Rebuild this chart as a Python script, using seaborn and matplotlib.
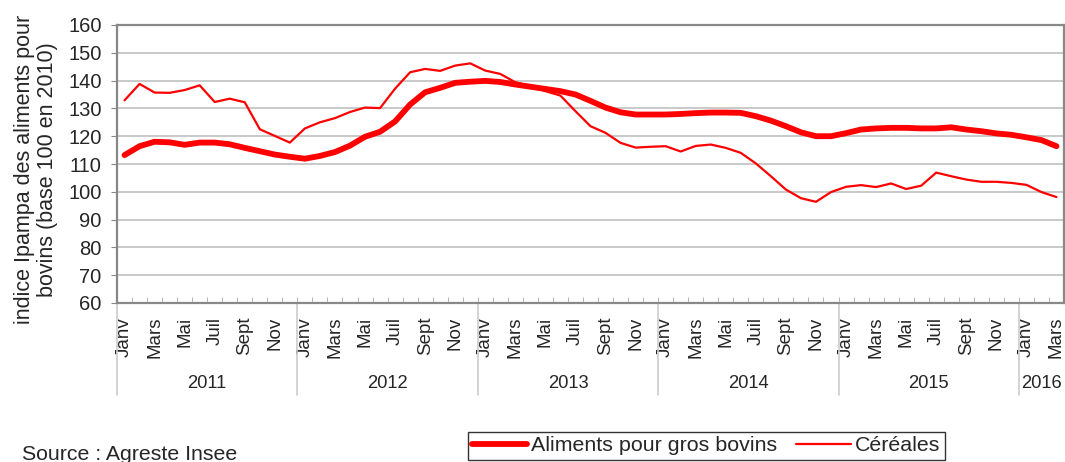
import numpy as np
import pandas as pd
import seaborn as sns
import matplotlib.pyplot as plt
from matplotlib.lines import Line2D

# Indice Ipampa, janvier 2011 -> mars 2016 (base 100 en 2010)
mois = ["Janv", "Févr", "Mars", "Avr", "Mai", "Juin",
        "Juil", "Août", "Sept", "Oct", "Nov", "Déc"]
annees = ["2011", "2012", "2013", "2014", "2015", "2016"]

aliments = [113.2, 116.4, 118.0, 117.8, 116.9, 117.7, 117.7, 117.1, 115.8, 114.6, 113.4, 112.6,
            111.9, 112.9, 114.3, 116.6, 119.8, 121.6, 125.3, 131.4, 135.8, 137.4, 139.2, 139.6,
            139.9, 139.5, 138.6, 137.8, 137.0, 136.2, 135.0, 132.7, 130.3, 128.6, 127.8, 127.8,
            127.8, 128.0, 128.3, 128.5, 128.5, 128.4, 127.2, 125.6, 123.6, 121.4, 120.0, 120.0,
            121.1, 122.4, 122.8, 123.0, 123.0, 122.8, 122.8, 123.2, 122.4, 121.8, 121.0, 120.5,
            119.6, 118.6, 116.4]
cereales = [132.9, 138.8, 135.7, 135.6, 136.6, 138.3, 132.3, 133.5, 132.2, 122.5, 120.1, 117.7,
            122.8, 125.0, 126.5, 128.7, 130.3, 130.1, 137.1, 143.0, 144.2, 143.5, 145.4, 146.2,
            143.6, 142.4, 139.4, 138.0, 136.2, 134.6, 129.0, 123.6, 121.2, 117.6, 115.9, 116.2,
            116.4, 114.5, 116.5, 117.0, 115.8, 114.0, 110.2, 105.6, 100.8, 97.7, 96.4, 99.9,
            101.8, 102.4, 101.7, 103.0, 101.0, 102.2, 106.9, 105.6, 104.4, 103.6, 103.6, 103.2,
            102.5, 99.9, 98.1]

n = len(aliments)
df = pd.DataFrame({"x": np.arange(n), "aliments": aliments, "cereales": cereales})

sns.set_style("white")
plt.rcParams["font.family"] = ["Liberation Sans", "DejaVu Sans"]

fig = plt.figure(figsize=(10.65, 4.62), dpi=100)
ax = fig.add_axes([117 / 1065, 1 - 303 / 462, 947 / 1065, 278 / 462])

sns.lineplot(data=df, x="x", y="aliments", color="#ff0000", linewidth=4.2, ax=ax)
sns.lineplot(data=df, x="x", y="cereales", color="#ff0000", linewidth=1.6, ax=ax)

ax.set_xlim(-0.5, n - 0.5)
ax.set_ylim(60, 160)
ax.set_yticks(range(60, 161, 10))
ax.yaxis.grid(True, color="#c0c0c0", linewidth=1.2)
ax.tick_params(axis="y", labelsize=14.5, length=4, color="#888888", left=True, pad=7)

# mois un sur deux
pos = list(range(0, n, 2))
ax.set_xticks(pos)
ax.set_xticklabels([mois[i % 12] for i in pos], rotation=90, fontsize=13.5)
ax.set_xticks(np.arange(-0.5, n, 1), minor=True)
ax.tick_params(axis="x", which="major", length=0, pad=10)
ax.tick_params(axis="x", which="minor", direction="in", length=4, color="#aaaaaa", bottom=True)
ax.set_xlabel("")

for s in ax.spines.values():
    s.set_color("#888888")
    s.set_linewidth(1.6)

ax.set_ylabel("indice Ipampa des aliments pour\nbovins (base 100 en 2010)", fontsize=15.5,
              linespacing=1.15)
ax.yaxis.set_label_coords(-0.062, 0.48)

# années sous l'axe
tr = ax.get_xaxis_transform()
for k, a in enumerate(annees):
    debut = k * 12 - 0.5
    fin = min(debut + 12, n - 0.5)
    ax.plot([debut, debut], [0, -0.33], transform=tr, color="#cccccc", lw=1.2, clip_on=False)
    ax.text((debut + fin) / 2, -0.288, a, transform=tr, ha="center", va="center", fontsize=13.2)

fig.text(22 / 1065, 1 - 454 / 462, "Source : Agreste Insee", fontsize=15.3, va="center")

handles = [Line2D([], [], color="#ff0000", lw=4.2), Line2D([], [], color="#ff0000", lw=1.6)]
leg = fig.legend(handles, ["Aliments pour gros bovins", "Céréales"], ncol=2,
                 loc="upper left", bbox_to_anchor=(468 / 1065, 1 - 432 / 462),
                 frameon=True, fancybox=False, edgecolor="black", fontsize=15.4,
                 handlelength=2.55, handletextpad=0.2, columnspacing=0.9,
                 borderpad=0.2, borderaxespad=0)
leg.get_frame().set_linewidth(1.0)

fig.savefig("out.png", dpi=100)
